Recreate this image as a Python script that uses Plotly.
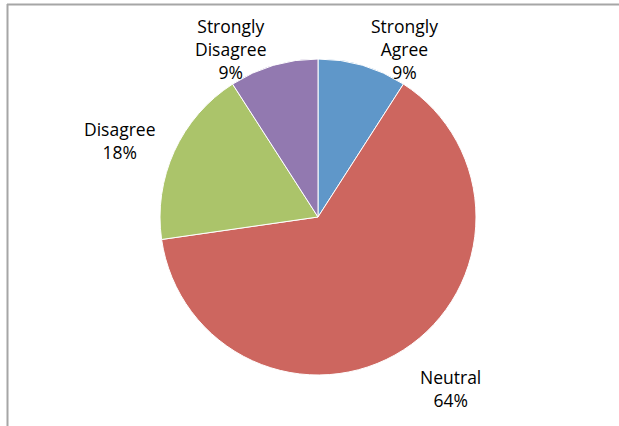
import plotly.graph_objects as go

categories = ["Strongly Agree", "Neutral", "Disagree", "Strongly Disagree"]
counts = [1, 7, 2, 1]
colors = ["#5F97C9", "#CD665F", "#ABC46A", "#9279B0"]

W, H = 619, 426
total = sum(counts)
pcts = [round(100 * c / total) for c in counts]

# label block centres in pixels (style/layout, not data)
label_pos = {
    "Strongly Agree": (404, 49),
    "Neutral": (450, 388),
    "Disagree": (120, 140),
    "Strongly Disagree": (231, 49),
}

def px_x(x):
    return x / W

def px_y(y):
    return 1 - y / H

fig = go.Figure(go.Pie(
    labels=categories,
    values=counts,
    sort=False,
    direction="clockwise",
    rotation=0,
    marker=dict(colors=colors, line=dict(color="white", width=1)),
    textinfo="none",
    hoverinfo="label+percent",
    showlegend=False,
    domain=dict(x=[px_x(160), px_x(476)], y=[px_y(375), px_y(59)]),
))

annotations = []
for cat, p in zip(categories, pcts):
    x, y = label_pos[cat]
    text = cat.replace(" ", "<br>") + "<br>" + f"{p}%"
    annotations.append(dict(
        x=px_x(x), y=px_y(y), xref="paper", yref="paper",
        text=text, showarrow=False, xanchor="center", yanchor="middle",
        align="center",
        font=dict(family="Open Sans", size=17.5, color="#000000"),
    ))

shapes = [
    dict(type="line", xref="paper", yref="paper",
         x0=px_x(7), x1=1.0, y0=px_y(4.5), y1=px_y(4.5),
         line=dict(color="#A6A6A6", width=2)),
    dict(type="line", xref="paper", yref="paper",
         x0=px_x(7.5), x1=px_x(7.5), y0=px_y(4), y1=0,
         line=dict(color="#A6A6A6", width=2)),
]

fig.update_layout(
    width=W, height=H,
    margin=dict(l=0, r=0, t=0, b=0),
    paper_bgcolor="white", plot_bgcolor="white",
    annotations=annotations,
    shapes=shapes,
)

fig.write_html("out.html", config={"displayModeBar": False},
               post_script="document.body.style.margin='0px';")
